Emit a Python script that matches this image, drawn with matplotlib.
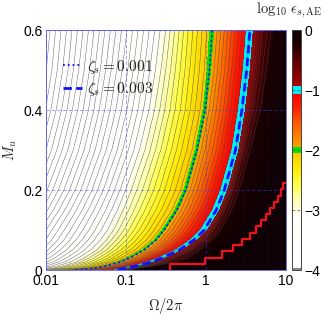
import numpy as np
import matplotlib
matplotlib.use("Agg")
import matplotlib.pyplot as plt
from matplotlib.cm import ScalarMappable
from matplotlib.colors import LinearSegmentedColormap, Normalize
from matplotlib.lines import Line2D

plt.rcParams["font.family"] = ["Liberation Sans", "DejaVu Sans"]
plt.rcParams["mathtext.fontset"] = "cm"

# M_u rows of the table below
mach = [0, .005, .01, .02, .03, .05, .075, .1, .15, .2, .3, .4, .5, .6]

# log10(Omega/2pi) where each contour passes, one list per log10(eps) value
eps_m6 = [-4.3, -4.1, -3.95, -3.8, -3.7, -3.6, -3.45, -3.35, -3.17, -3.03, -2.83, -2.7, -2.62, -2.56]
eps_m5 = [-3.6, -3.4, -3.25, -3.1, -3.0, -2.9, -2.75, -2.65, -2.47, -2.33, -2.13, -2.0, -1.92, -1.875]
eps_m4 = [-2.9, -2.65, -2.5, -2.35, -2.25, -2.12, -2.0, -1.92, -1.76, -1.63, -1.45, -1.33, -1.25, -1.19]
eps_m3 = [-2.1, -1.9, -1.78, -1.62, -1.52, -1.36, -1.24, -1.15, -1.03, -.93, -.76, -.64, -.56, -.5]
eps_m25 = [-1.85, -1.62, -1.5, -1.33, -1.22, -1.06, -.93, -.83, -.69, -.58, -.43, -.32, -.26, -.22]
eps_m205 = [-1.65, -1.41, -1.28, -1.1, -.98, -.8, -.65, -.55, -.39, -.28, -.14, -.04, .01, .04]
eps_m2 = [-1.62, -1.38, -1.25, -1.07, -.95, -.77, -.62, -.52, -.36, -.25, -.11, -.01, .045, .08]
eps_m195 = [-1.59, -1.35, -1.22, -1.04, -.92, -.74, -.59, -.49, -.33, -.22, -.08, .02, .08, .12]
eps_m107 = [-1.13, -1.04, -.9, -.72, -.59, -.37, -.19, -.06, .09, .19, .33, .41, .47, .51]
eps_m1 = [-1.1, -1.0, -.86, -.68, -.55, -.33, -.15, -.02, .13, .23, .37, .45, .51, .55]
eps_m093 = [-1.07, -.96, -.82, -.64, -.51, -.29, -.11, .02, .17, .27, .41, .49, .55, .59]
eps_m05 = [-1.03, -.9, -.74, -.5, -.36, -.17, .0, .1, .24, .34, .48, .59, .66, .71]
eps_m02 = [-.95, -.78, -.6, -.3, -.17, -.03, .12, .22, .36, .45, .59, .72, .8, .87]
eps_0 = [-.8, -.5, -.3, -.05, .05, .2, .35, .45, .6, .7, .85, .97, 1.05, 1.12]
eps_p = [1.5] * 14
eps_values = [-6, -5, -4, -3, -2.5, -2.05, -2, -1.95, -1.07, -1, -.93, -.5, -.2, 0, .5]

# red staircase, log10(Omega/2pi) and M_u
stair_x = [-.452, -.452, -.006, .202, .34, .452, .548, .631, .694, .756, .806, .856, .898, .94, .96, .994]
stair_y = [0, .015, .031, .0475, .0625, .0775, .093, .109, .125, .14, .156, .171, .186, .202, .217, .217]

xticks = [-2, -1, 0, 1]
xticklabels = ["0.01", "0.1", "1", "10"]
yticks = [0, .2, .4, .6]
yticklabels = ["0", "0.2", "0.4", "0.6"]
cticks = [-4, -3, -2, -1, 0]

W, H = 327, 319
fig = plt.figure(figsize=(W / 100, H / 100), dpi=100)
ax = fig.add_axes([45.5 / W, (H - 270) / H, 240.5 / W, 240 / H])
cax = fig.add_axes([291.5 / W, (H - 270) / H, 9 / W, 240 / H])

# colour map with the sharp green and cyan bands
def c(v):
    return (v + 4) / 4

cmap = LinearSegmentedColormap.from_list("eps", [
    (c(-4), (1, 1, 1)),
    (c(-3.1), (1, 1, .98)),
    (c(-3), (1, 1, .85)),
    (c(-2.8), (1, 1, .65)),
    (c(-2.6), (1, 1, .3)),
    (c(-2.3), (1, .92, 0)),
    (c(-2.05), (1, .78, 0)),
    (c(-2.05), (0, .9, 0)),
    (c(-1.95), (0, .9, 0)),
    (c(-1.95), (1, .63, 0)),
    (c(-1.5), (1, .31, 0)),
    (c(-1.3), (1, .12, 0)),
    (c(-1.07), (1, 0, 0)),
    (c(-1.07), (0, .94, .98)),
    (c(-.93), (0, .94, .98)),
    (c(-.93), (.69, 0, 0)),
    (c(-.5), (.35, 0, 0)),
    (c(-.2), (.1, 0, 0)),
    (c(0), (.06, 0, .01)),
], N=512)
cmap.set_under("white")
cmap.set_over((.06, 0, .01))
norm = Normalize(-4, 0)

X = np.array([eps_m6, eps_m5, eps_m4, eps_m3, eps_m25, eps_m205, eps_m2, eps_m195, eps_m107, eps_m1,
              eps_m093, eps_m05, eps_m02, eps_0, eps_p]).T
Y = np.tile(np.array(mach)[:, None], (1, len(eps_values)))
Z = np.tile(np.array(eps_values, dtype=float), (len(mach), 1))

ax.contourf(X, Y, Z, levels=np.arange(-6, .52, .02), cmap=cmap, norm=norm, extend="both")
ax.contour(X, Y, Z, levels=np.arange(-6, -.25, .1), colors="#444444", linewidths=.28,
           linestyles="solid")

ax.plot(eps_m2, mach, color="#1010ff", ls=":", lw=1.3, zorder=4)
ax.plot(eps_m1, mach, color="#1010ff", lw=2, dashes=(3, 1.6), zorder=4)
ax.plot(stair_x, stair_y, color="#f01020", lw=1.6, drawstyle="steps-post", zorder=5)

ax.set_xlim(-2, 1)
ax.set_ylim(0, .6)
ax.set_xticks(xticks, xticklabels)
ax.set_yticks(yticks, yticklabels)
minor = [d + np.log10(k) for d in [-2, -1, 0] for k in range(2, 10)]
ax.set_xticks(minor, minor=True)
ax.tick_params(which="both", length=0, labelsize=10)
ax.tick_params(axis="x", pad=3)
ax.tick_params(axis="y", pad=2)
ax.grid(True, which="major", color="#4040f0", ls=(0, (6, 4)), lw=.4, alpha=.85)
ax.grid(True, which="minor", axis="x", color="#4040f0", ls=(0, (1, 3)), lw=.35, alpha=.6)
ax.set_axisbelow(False)
for s in ax.spines.values():
    s.set_color("#7070f0")
    s.set_linewidth(.7)

ax.set_xlabel(r"$\Omega/2\pi$", fontsize=10.5, color="#222222", labelpad=6)
ax.set_ylabel(r"$M_u$", fontsize=10.5, color="#222222", labelpad=3)

handles = [Line2D([], [], color="#1010ff", ls=":", lw=1.3),
           Line2D([], [], color="#1010ff", lw=2, dashes=(3, 1.6))]
ax.legend(handles, [r"$\zeta_s=0.001$", r"$\zeta_s=0.003$"], frameon=False, fontsize=11,
          loc="upper left", bbox_to_anchor=(.073, .885), handlelength=1.25, handletextpad=.3,
          labelspacing=.3, borderpad=0, borderaxespad=0, labelcolor="#222222")

cb = fig.colorbar(ScalarMappable(norm=norm, cmap=cmap), cax=cax, ticks=cticks)
cb.ax.tick_params(length=0, labelsize=10, pad=3)
cb.outline.set_edgecolor("#444444")
cb.outline.set_linewidth(.7)
for v in [-3, -2, -1]:
    cax.axhline(v, color="#555555", lw=.5, ls=(0, (4, 3)))
cax.axhline(-3.98, color="#888888", lw=1.5)

fig.text(289 / W, (H - 10) / H, r"$\log_{10}\,\epsilon_{s,\mathrm{AE}}$", fontsize=10.5,
         color="#222222", ha="center", va="center")

fig.savefig("out.png", dpi=100)
